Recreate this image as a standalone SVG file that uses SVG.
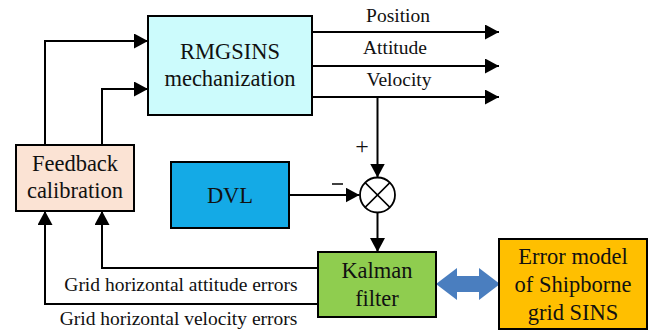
<svg xmlns="http://www.w3.org/2000/svg" width="656" height="331" viewBox="0 0 656 331">
  <defs>
    <marker id="ah" viewBox="0 0 14 15" refX="14" refY="7.5" markerWidth="14" markerHeight="15" markerUnits="userSpaceOnUse" orient="auto">
      <path d="M0,0 L14,7.5 L0,15 Z" fill="#000"/>
    </marker>
    <style>
      .box { stroke: #000; stroke-width: 2; }
      text { font-family: 'Liberation Serif', 'DejaVu Serif', serif; fill: #111; text-anchor: middle; }
      .t { font-size: 22.5px; }
      .lbl { font-size: 19.5px; }
      .plus { font-size: 24px; }
      .c { fill: none; stroke: #000; stroke-width: 2; }
      .ca { fill: none; stroke: #000; stroke-width: 2; marker-end: url(#ah); }
    </style>
  </defs>
  <rect width="656" height="331" fill="#fff"/>

  <g id="connectors">
    <path class="ca" d="M45,145 V41 H148"/>
    <path class="ca" d="M102,145 V89 H148"/>
    <path class="ca" d="M312,32 H499"/>
    <path class="ca" d="M312,66 H499"/>
    <path class="ca" d="M312,97 H499"/>
    <path class="ca" d="M377.5,97 V177.5"/>
    <path class="ca" d="M289,195 H359.5"/>
    <path class="ca" d="M377.5,212.5 V252"/>
    <path class="ca" d="M318,268 H102 V211"/>
    <path class="ca" d="M318,304 H45 V211"/>
    <polygon points="436,284 457,268 457,276 479,276 479,268 500,284 479,300 479,292 457,292 457,300" fill="#4a7ebf"/>
    <text class="lbl" x="398" y="22">Position</text>
    <text class="lbl" x="395" y="54">Attitude</text>
    <text class="lbl" x="399" y="86">Velocity</text>
    <text class="lbl" x="181" y="290.5">Grid horizontal attitude errors</text>
    <text class="lbl" x="178.5" y="325">Grid horizontal velocity errors</text>
    <text class="plus" x="362" y="154">+</text>
    <path d="M332,184 H343" stroke="#000" stroke-width="1.5"/>
  </g>

  <g id="rmgsins">
    <rect class="box" x="148" y="16" width="164" height="99" fill="#ccfbfc"/>
    <text class="t" x="230" y="59">RMGSINS</text>
    <text class="t" x="230" y="86">mechanization</text>
  </g>

  <g id="feedback">
    <rect class="box" x="16" y="145" width="118" height="66" fill="#fbe3d4"/>
    <text class="t" x="75" y="171">Feedback</text>
    <text class="t" x="75" y="198">calibration</text>
  </g>

  <g id="dvl">
    <rect class="box" x="171" y="162" width="118" height="66" fill="#14aae6"/>
    <text class="t" x="230" y="203">DVL</text>
  </g>

  <g id="sum">
    <circle cx="377.5" cy="195" r="17.5" fill="#fff" stroke="#000" stroke-width="1.8"/>
    <path d="M365.1,182.6 L389.9,207.4 M389.9,182.6 L365.1,207.4" stroke="#000" stroke-width="1.5"/>
  </g>

  <g id="kalman">
    <rect class="box" x="318" y="252" width="118" height="65" fill="#8fcd4f"/>
    <text class="t" x="377" y="278">Kalman</text>
    <text class="t" x="377" y="305.5">filter</text>
  </g>

  <g id="errormodel">
    <rect class="box" x="499" y="239" width="148" height="90" fill="#ffbf00"/>
    <text class="t" x="573" y="263.5">Error model</text>
    <text class="t" x="573" y="291.5">of Shipborne</text>
    <text class="t" x="573" y="320">grid SINS</text>
  </g>
</svg>
